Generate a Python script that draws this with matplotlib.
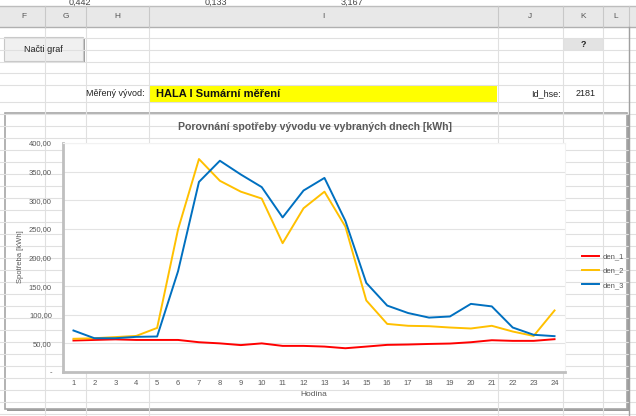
import matplotlib
matplotlib.use("Agg")
import matplotlib.pyplot as plt
from matplotlib.patches import Rectangle
from matplotlib.ticker import FuncFormatter

plt.rcParams["font.family"] = ["Liberation Sans Narrow", "Liberation Sans", "DejaVu Sans"]

# chart data
hours = list(range(1, 25))
den_1 = [55, 56, 57, 56, 56, 56, 52, 50, 47, 50, 45.6, 45.6,
         44.4, 41.5, 44.4, 47.4, 48, 49, 49.7, 52, 55.5, 54.4, 54.4, 57.3]
den_2 = [58, 59, 61, 63, 77, 249, 372, 334, 315, 303, 225, 286,
         315, 254, 125, 84, 80.7, 80, 77.7, 76, 80.7, 70.7, 63, 107.5]
den_3 = [72.5, 59, 59, 61.4, 62, 176, 332, 369, 345, 323, 270, 317,
         339, 264, 155.6, 116, 103, 95, 97, 119, 114.6, 77.7, 65, 62.6]
series = [("den_1", den_1, "#FF0000"), ("den_2", den_2, "#FFC000"), ("den_3", den_3, "#0070C0")]
y_ticks = [0, 50, 100, 150, 200, 250, 300, 350, 400]

# spreadsheet surroundings
col_edges = [45, 86, 149, 498, 563, 603, 629]
col_labels = [("F", 24), ("G", 66), ("H", 117), ("I", 323), ("J", 530), ("K", 583), ("L", 616)]
row_lines = [38, 50, 62, 73, 85, 102] + list(range(114, 416, 12))

W, H = 636, 416
fig = plt.figure(figsize=(W / 100, H / 100), dpi=100)

bg = fig.add_axes([0, 0, 1, 1], zorder=0)
bg.set_xlim(0, W)
bg.set_ylim(H, 0)
bg.axis("off")

# values of the row above, mostly scrolled out of view
for txt, x in [("0,442", 80), ("0,133", 216), ("3,167", 352)]:
    bg.text(x, 2.5, txt, ha="center", va="center", fontsize=6.5, color="#444444")

# grid
for x in col_edges:
    bg.plot([x, x], [27, H], color="#E0E0E0", lw=0.8)
for y in row_lines:
    bg.plot([0, W], [y, y], color="#E0E0E0", lw=0.8)

# column header
bg.add_patch(Rectangle((0, 6), W, 21, facecolor="#E8E8E8", edgecolor="none"))
bg.plot([0, W], [6, 6], color="#BDBDBD", lw=1)
bg.plot([0, W], [27, 27], color="#B0B0B0", lw=1)
for x in col_edges:
    bg.plot([x, x], [6, 27], color="#C8C8C8", lw=0.8)
for lab, x in col_labels:
    bg.text(x, 17, lab, ha="center", va="center", fontsize=6, color="#555555")

# button
bg.add_patch(Rectangle((5, 38), 80, 25, facecolor="#9E9E9E", edgecolor="none"))
bg.add_patch(Rectangle((4, 37), 79, 24, facecolor="#F0F0F0", edgecolor="#C8C8C8", lw=0.8))
bg.text(43.5, 49, "Načti graf", ha="center", va="center", fontsize=6.5, color="#222222")

# "?" cell
bg.add_patch(Rectangle((563, 39), 40, 11, facecolor="#E3E3E3", edgecolor="none"))
bg.text(583, 44.5, "?", ha="center", va="center", fontsize=6.5, fontweight="bold", color="#222222")

# measured feeder row
bg.add_patch(Rectangle((150, 86), 347, 16, facecolor="#FFFF00", edgecolor="none"))
bg.text(156, 94, "HALA I Sumární měření", ha="left", va="center", fontsize=8,
        fontweight="bold", color="#111111")
bg.text(145, 94, "Měřený vývod:", ha="right", va="center", fontsize=6.5, color="#222222")
bg.text(561, 94, "Id_hse:", ha="right", va="center", fontsize=6.5, color="#222222")
bg.text(576, 94, "2181", ha="left", va="center", fontsize=6.5, color="#222222")
bg.plot([629, 629], [27, H], color="#A0A0A0", lw=1)

# chart frame with shadow
bg.add_patch(Rectangle((7, 115), 622, 296, facecolor="#9A9A9A", edgecolor="none"))
bg.add_patch(Rectangle((5, 113), 622, 296, facecolor="white", edgecolor="#A6A6A6", lw=1.2))

bg.text(315, 127, "Porovnání spotřeby vývodu ve vybraných dnech [kWh]", ha="center",
        va="center", fontsize=7.6, fontweight="bold", color="#595959")
bg.text(20, 257, "Spotřeba [kWh]", ha="center", va="center", rotation=90,
        fontsize=5.5, color="#595959")
bg.text(314, 394, "Hodina", ha="center", va="center", fontsize=6, color="#595959")

# plot area
ax = fig.add_axes([63 / W, 1 - 372 / H, (565 - 63) / W, (372 - 143) / H], zorder=2)
ax.set_facecolor("white")
for name, vals, col in series:
    ax.plot(hours, vals, color=col, lw=1.4, label=name, solid_joinstyle="round")

ax.set_xlim(0.5, 24.5)
ax.set_ylim(0, 400)
ax.set_xticks(hours)
ax.set_yticks(y_ticks)
ax.yaxis.set_major_formatter(FuncFormatter(
    lambda v, p: "-" if v == 0 else f"{v:.2f}".replace(".", ",")))
ax.tick_params(axis="both", length=0, labelsize=5.5, labelcolor="#595959")
ax.tick_params(axis="y", pad=8)
ax.tick_params(axis="x", pad=6)
ax.grid(axis="y", color="#E3E3E3", lw=0.8)
ax.set_axisbelow(True)
for side in ["top", "right"]:
    ax.spines[side].set_color("#F2F2F2")
    ax.spines[side].set_linewidth(0.8)
for side in ["left", "bottom"]:
    ax.spines[side].set_color("#BFBFBF")
    ax.spines[side].set_linewidth(2)

fig.legend(loc="center left", bbox_to_anchor=(575 / W, 1 - 271 / H), frameon=False,
           fontsize=5.5, labelcolor="#595959", handlelength=2.2, handletextpad=0.5,
           labelspacing=0.9)

fig.savefig("out.png", dpi=100, facecolor="white")
